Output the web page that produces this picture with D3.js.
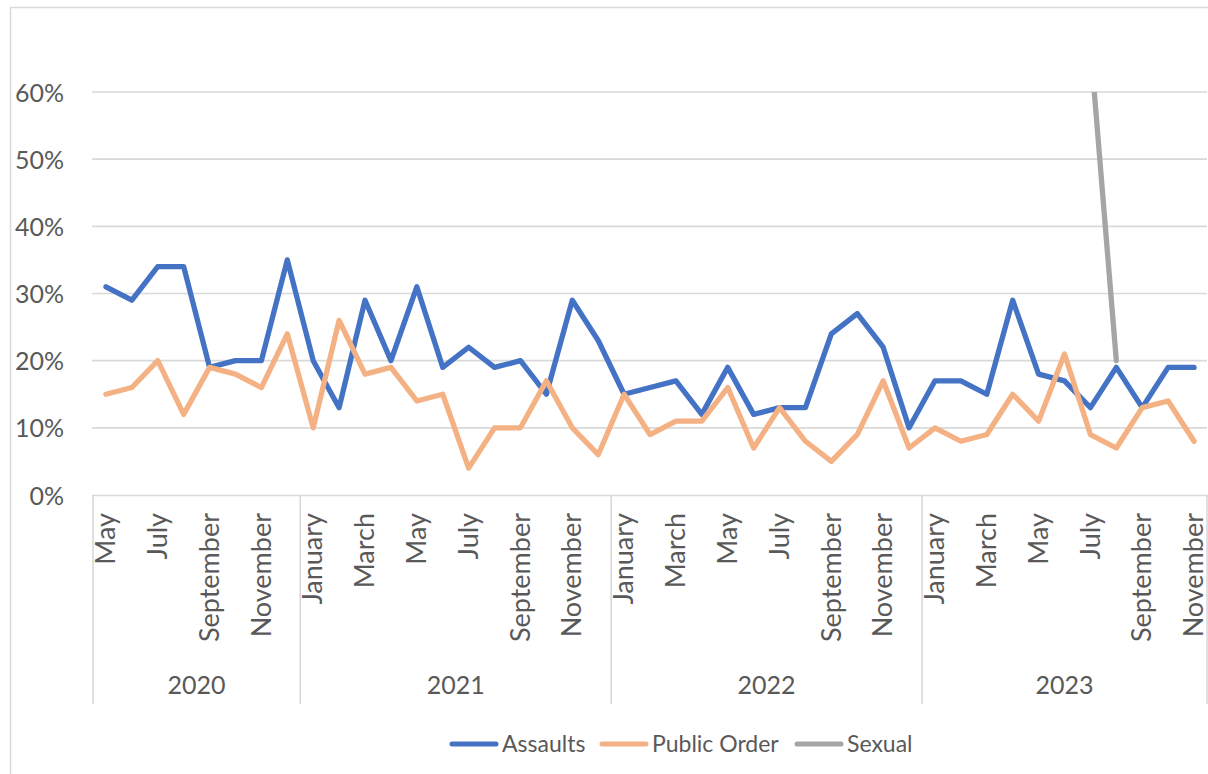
<!DOCTYPE html>
<html>
<head>
<meta charset="utf-8">
<script src="https://cdn.jsdelivr.net/npm/d3@7"></script>
<style>
  html, body { margin: 0; padding: 0; background: #fff; }
  svg { display: block; }
  text { font-family: Lato, "Open Sans", sans-serif; fill: #595959; }
</style>
</head>
<body>
<svg id="chart" width="1208" height="774"></svg>
<script>
// ---- Data ----
const years = ["2020", "2021", "2022", "2023"];
const months2020 = ["May", "June", "July", "August", "September", "October", "November", "December"];
const monthsFull = ["January", "February", "March", "April", "May", "June", "July", "August", "September", "October", "November", "December"];
const months2023 = ["January", "February", "March", "April", "May", "June", "July", "August", "September", "October", "November"];

const assaults = [
  0.31, 0.29, 0.34, 0.34, 0.19, 0.20, 0.20, 0.35,
  0.20, 0.13, 0.29, 0.20, 0.31, 0.19, 0.22, 0.19, 0.20, 0.15, 0.29, 0.23,
  0.15, 0.16, 0.17, 0.12, 0.19, 0.12, 0.13, 0.13, 0.24, 0.27, 0.22, 0.10,
  0.17, 0.17, 0.15, 0.29, 0.18, 0.17, 0.13, 0.19, 0.13, 0.19, 0.19
];
const publicOrder = [
  0.15, 0.16, 0.20, 0.12, 0.19, 0.18, 0.16, 0.24,
  0.10, 0.26, 0.18, 0.19, 0.14, 0.15, 0.04, 0.10, 0.10, 0.17, 0.10, 0.06,
  0.15, 0.09, 0.11, 0.11, 0.16, 0.07, 0.13, 0.08, 0.05, 0.09, 0.17, 0.07,
  0.10, 0.08, 0.09, 0.15, 0.11, 0.21, 0.09, 0.07, 0.13, 0.14, 0.08
];
const sexual = [
  null, null, null, null, null, null, null, null,
  null, null, null, null, null, null, null, null, null, null, null, null,
  null, null, null, null, null, null, null, null, null, null, null, null,
  null, null, null, null, null, null, 0.67, 0.20, null, null, null
];
const seriesNames = ["Assaults", "Public Order", "Sexual"];
const seriesColors = ["#4472C4", "#F4B183", "#A5A5A5"];
const yTicks = [0, 0.1, 0.2, 0.3, 0.4, 0.5, 0.6];

// ---- Build categories ----
const yearMonths = [months2020, monthsFull, monthsFull, months2023];
const cats = [];
yearMonths.forEach((ms, yi) => ms.forEach(m => cats.push({ year: years[yi], month: m, key: years[yi] + "-" + m })));
const seriesData = [assaults, publicOrder, sexual];

// ---- Layout ----
const svg = d3.select("#chart");
const plotL = 93, plotR = 1207, plotT = 92, plotB = 495;

const x = d3.scaleBand().domain(cats.map(c => c.key)).range([plotL, plotR]).paddingInner(0).paddingOuter(0);
const y = d3.scaleLinear().domain([0, 0.6]).range([plotB, plotT]);
const cx = k => x(k) + x.bandwidth() / 2;

// Outer chart border
svg.append("rect").attr("x", 10.5).attr("y", 7.5).attr("width", 1220).attr("height", 790)
  .attr("fill", "none").attr("stroke", "#D9D9D9").attr("stroke-width", 1.5);

// Gridlines
svg.append("g").selectAll("line").data(yTicks.filter(t => t > 0)).join("line")
  .attr("x1", plotL - 1).attr("x2", plotR).attr("y1", d => y(d)).attr("y2", d => y(d))
  .attr("stroke", "#D9D9D9").attr("stroke-width", 1.6);

// Y axis labels
const yAxis = d3.axisLeft(y).tickValues(yTicks).tickFormat(d3.format(".0%")).tickSize(0).tickPadding(0);
const yg = svg.append("g").attr("transform", "translate(64,0)").call(yAxis);
yg.select(".domain").remove();
yg.selectAll("text").attr("font-size", 25).attr("font-family", "Lato").attr("fill", "#595959").attr("dy", "0.36em");

// Category axis line
svg.append("line").attr("x1", plotL - 1).attr("x2", plotR).attr("y1", plotB + 0.5).attr("y2", plotB + 0.5)
  .attr("stroke", "#D9D9D9").attr("stroke-width", 1.6);

// Group separators
const sepXs = [x(cats[0].key)];
years.forEach(yr => {
  const last = cats.filter(c => c.year === yr).slice(-1)[0];
  sepXs.push(x(last.key) + x.bandwidth());
});
svg.append("g").selectAll("line").data(sepXs).join("line")
  .attr("x1", d => d).attr("x2", d => d).attr("y1", plotB).attr("y2", 704)
  .attr("stroke", "#D9D9D9").attr("stroke-width", 1.6);

// Month labels (every other category)
svg.append("g").selectAll("text").data(cats.filter((c, i) => i % 2 === 0)).join("text")
  .attr("transform", d => `translate(${cx(d.key)},513) rotate(-90)`)
  .attr("text-anchor", "end").attr("dy", "0.34em")
  .attr("font-size", 27).text(d => d.month);

// Year labels
svg.append("g").selectAll("text").data(years).join("text")
  .attr("x", (d, i) => (sepXs[i] + sepXs[i + 1]) / 2)
  .attr("y", 694).attr("text-anchor", "middle").attr("font-size", 25).text(d => d);

// Clip for lines
svg.append("clipPath").attr("id", "plotClip").append("rect")
  .attr("x", plotL - 5).attr("y", plotT).attr("width", plotR - plotL + 10).attr("height", plotB - plotT + 10);

const line = d3.line().defined(d => d.v !== null).x(d => cx(d.k)).y(d => y(d.v));
const lg = svg.append("g").attr("clip-path", "url(#plotClip)");
seriesData.forEach((vals, si) => {
  lg.append("path")
    .datum(vals.map((v, i) => ({ k: cats[i].key, v })))
    .attr("d", line).attr("fill", "none")
    .attr("stroke", seriesColors[si]).attr("stroke-width", 5.3)
    .attr("stroke-linejoin", "round").attr("stroke-linecap", "round");
});

// Legend
const legendItems = [
  { name: seriesNames[0], color: seriesColors[0], x0: 450 },
  { name: seriesNames[1], color: seriesColors[1], x0: 600 },
  { name: seriesNames[2], color: seriesColors[2], x0: 795 }
];
const leg = svg.append("g");
legendItems.forEach(it => {
  leg.append("line").attr("x1", it.x0 + 2).attr("x2", it.x0 + 46).attr("y1", 744).attr("y2", 744)
    .attr("stroke", it.color).attr("stroke-width", 5).attr("stroke-linecap", "round");
  leg.append("text").attr("x", it.x0 + 52).attr("y", 744).attr("dy", "0.36em")
    .attr("font-size", 23).text(it.name);
});
</script>
</body>
</html>
